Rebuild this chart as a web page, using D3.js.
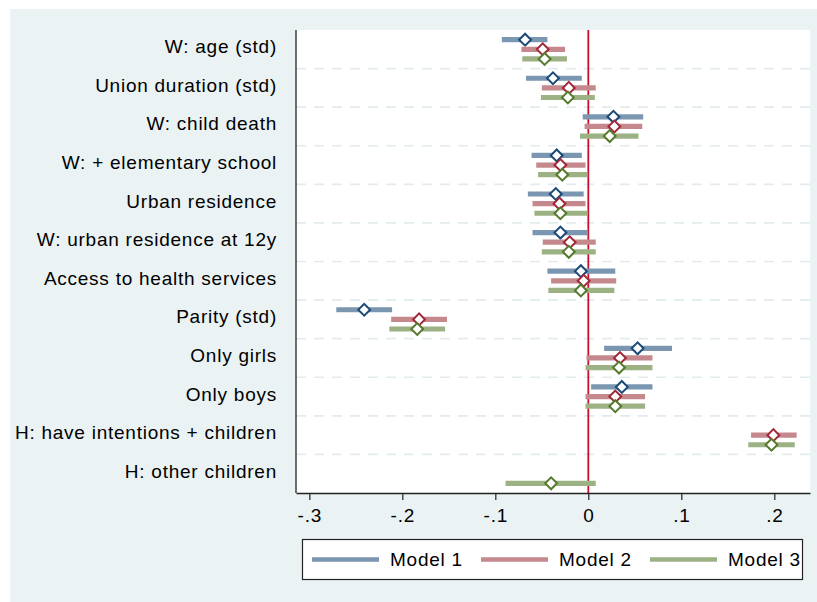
<!DOCTYPE html>
<html>
<head>
<meta charset="utf-8">
<script src="https://cdn.jsdelivr.net/npm/d3@7/dist/d3.min.js"></script>
<style>
  html, body { margin: 0; padding: 0; background: #ffffff; }
  svg { display: block; }
  text { font-family: "Liberation Sans", Arial, Helvetica, sans-serif; fill: #000; }
</style>
</head>
<body>
<svg id="chart" width="817" height="602"></svg>
<script>
// Coefficient plot: three nested models, point estimate with confidence interval
const categories = [
  "W: age (std)",
  "Union duration (std)",
  "W: child death",
  "W: + elementary school",
  "Urban residence",
  "W: urban residence at 12y",
  "Access to health services",
  "Parity (std)",
  "Only girls",
  "Only boys",
  "H: have intentions + children",
  "H: other children"
];

// [estimate, lower bound, upper bound]; null where the term is not in the model
const model1 = [
  [-0.068, -0.093, -0.044],
  [-0.038, -0.067, -0.007],
  [ 0.027, -0.006,  0.059],
  [-0.034, -0.061, -0.007],
  [-0.035, -0.065, -0.005],
  [-0.030, -0.060, -0.001],
  [-0.008, -0.044,  0.029],
  [-0.241, -0.271, -0.211],
  [ 0.053,  0.017,  0.090],
  [ 0.036,  0.003,  0.069],
  null,
  null
];
const model2 = [
  [-0.049, -0.072, -0.025],
  [-0.021, -0.050,  0.008],
  [ 0.028, -0.004,  0.058],
  [-0.030, -0.056, -0.003],
  [-0.031, -0.060, -0.003],
  [-0.020, -0.049,  0.008],
  [-0.005, -0.040,  0.030],
  [-0.182, -0.212, -0.152],
  [ 0.034, -0.002,  0.069],
  [ 0.029, -0.003,  0.061],
  [ 0.199,  0.175,  0.224],
  null
];
const model3 = [
  [-0.047, -0.071, -0.023],
  [-0.022, -0.051,  0.007],
  [ 0.023, -0.009,  0.054],
  [-0.028, -0.054, -0.001],
  [-0.030, -0.058, -0.001],
  [-0.021, -0.050,  0.008],
  [-0.008, -0.043,  0.028],
  [-0.184, -0.214, -0.154],
  [ 0.033, -0.003,  0.069],
  [ 0.029, -0.003,  0.061],
  [ 0.197,  0.172,  0.222],
  [-0.040, -0.089,  0.008]
];

const modelNames = ["Model 1", "Model 2", "Model 3"];
const xTicks = [-0.3, -0.2, -0.1, 0, 0.1, 0.2];
const xTickLabels = ["-.3", "-.2", "-.1", "0", ".1", ".2"];

const models = [model1, model2, model3];
const barColors = ["#7b96b1", "#c5898d", "#9db284"];
const markColors = ["#1b4a78", "#a02838", "#567a2c"];

const FONT_SIZE = 19;
const SPACING = "0.75px";

const svg = d3.select("#chart");
const W = 817, H = 602;

// graph region background
svg.append("rect").attr("x", 0).attr("y", 0).attr("width", W).attr("height", H).attr("fill", "#ffffff");
svg.append("rect").attr("x", 10).attr("y", 9).attr("width", W - 10).attr("height", H - 9).attr("fill", "#eaf2f3");

const plot = { left: 296, right: 810, top: 30, bottom: 493 };

const x = d3.scaleLinear()
  .domain([-0.31434, 0.23839])
  .range([plot.left, plot.right]);

const y = d3.scaleBand()
  .domain(categories)
  .range([plot.top, plot.bottom])
  .paddingInner(0).paddingOuter(0);

const rowH = y.bandwidth();
const offsets = [-rowH / 4, 0, rowH / 4];

// plot region
svg.append("rect")
  .attr("x", plot.left).attr("y", plot.top)
  .attr("width", plot.right - plot.left).attr("height", plot.bottom - plot.top)
  .attr("fill", "#ffffff");

// dashed separators between terms
svg.append("g").selectAll("line")
  .data(categories.slice(1))
  .join("line")
  .attr("x1", plot.left).attr("x2", plot.right)
  .attr("y1", d => y(d)).attr("y2", d => y(d))
  .attr("stroke", "#e2ebee").attr("stroke-width", 1.6)
  .attr("stroke-dasharray", "10,8");

// reference line at zero
svg.append("line")
  .attr("x1", x(0)).attr("x2", x(0))
  .attr("y1", plot.top).attr("y2", plot.bottom)
  .attr("stroke", "#c8102e").attr("stroke-width", 1.8);

// confidence intervals and estimates
models.forEach((m, mi) => {
  const rows = categories.map((c, i) => ({ c, v: m[i] })).filter(d => d.v);
  const g = svg.append("g");
  g.selectAll("line")
    .data(rows)
    .join("line")
    .attr("x1", d => x(d.v[1])).attr("x2", d => x(d.v[2]))
    .attr("y1", d => y(d.c) + rowH / 2 + offsets[mi])
    .attr("y2", d => y(d.c) + rowH / 2 + offsets[mi])
    .attr("stroke", barColors[mi]).attr("stroke-width", 5.2);
  g.selectAll("path")
    .data(rows)
    .join("path")
    .attr("d", d3.symbol().type(d3.symbolSquare).size(70))
    .attr("transform", d => `translate(${x(d.v[0])},${y(d.c) + rowH / 2 + offsets[mi]}) rotate(45)`)
    .attr("fill", "#ffffff")
    .attr("stroke", markColors[mi]).attr("stroke-width", 2);
});

// y axis
svg.append("line")
  .attr("x1", plot.left).attr("x2", plot.left)
  .attr("y1", plot.top).attr("y2", plot.bottom)
  .attr("stroke", "#333").attr("stroke-width", 1.4);

svg.append("g").selectAll("text")
  .data(categories)
  .join("text")
  .attr("x", 277)
  .attr("y", d => y(d) + rowH / 2 + 4)
  .attr("text-anchor", "end")
  .attr("font-size", FONT_SIZE)
  .attr("letter-spacing", SPACING)
  .text(d => d);

// x axis
const xAxis = d3.axisBottom(x)
  .tickValues(xTicks)
  .tickFormat((d, i) => xTickLabels[i])
  .tickSize(7)
  .tickPadding(9)
  .tickSizeOuter(0);

const gx = svg.append("g")
  .attr("transform", `translate(0,${plot.bottom})`)
  .call(xAxis);
gx.select(".domain").attr("stroke", "#222").attr("stroke-width", 1.4);
gx.selectAll(".tick line").attr("stroke", "#222").attr("stroke-width", 1.2);
gx.selectAll(".tick text")
  .attr("font-size", FONT_SIZE)
  .attr("letter-spacing", SPACING)
  .attr("font-family", "'Liberation Sans', Arial, Helvetica, sans-serif")
  .attr("fill", "#000");

// legend
const legend = svg.append("g");
legend.append("rect")
  .attr("x", 302.5).attr("y", 539.5).attr("width", 500).attr("height", 40)
  .attr("fill", "#ffffff").attr("stroke", "#222").attr("stroke-width", 1.2);

const legendX = [312, 481, 650];
modelNames.forEach((name, i) => {
  legend.append("line")
    .attr("x1", legendX[i]).attr("x2", legendX[i] + 67)
    .attr("y1", 559.5).attr("y2", 559.5)
    .attr("stroke", barColors[i]).attr("stroke-width", 4.5);
  legend.append("text")
    .attr("x", legendX[i] + 78).attr("y", 566)
    .attr("font-size", FONT_SIZE)
    .attr("letter-spacing", SPACING)
    .text(name);
});
</script>
</body>
</html>
